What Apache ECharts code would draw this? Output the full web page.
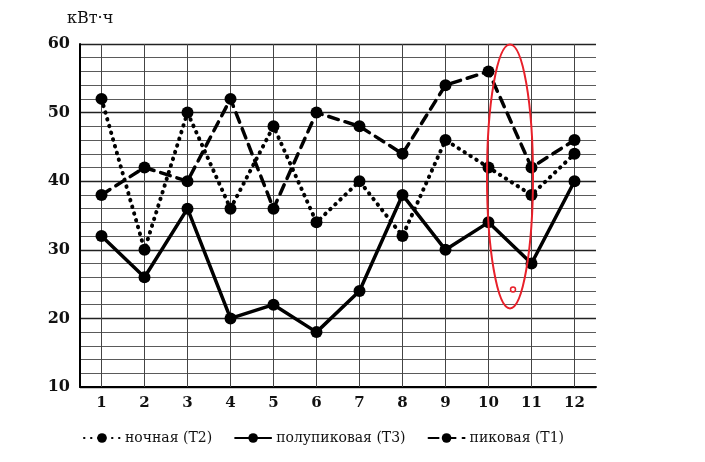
<!DOCTYPE html>
<html><head><meta charset="utf-8">
<script src="https://cdn.jsdelivr.net/npm/echarts@6/dist/echarts.min.js"></script>
<style>html,body{margin:0;padding:0;background:#fff}#c{width:705px;height:462px}</style>
</head><body><div id="c"></div>
<script>
const months = ['1','2','3','4','5','6','7','8','9','10','11','12'];
const night = [52,30,50,36,48,34,40,32,46,42,38,44];      // ночная (Т2)
const halfPeak = [32,26,36,20,22,18,24,38,30,34,28,40];   // полупиковая (Т3)
const peak = [38,42,40,52,36,50,48,44,54,56,42,46];       // пиковая (Т1)
const yTicks = [10,20,30,40,50,60];
const unitLabel = 'кВт·ч';
const names = ['ночная (Т2)','полупиковая (Т3)','пиковая (Т1)'];

const FONT = 'DejaVu Serif';
const chart = echarts.init(document.getElementById('c'));
const mk = (name, data, type, width) => ({
  name, type:'line', data, symbol:'circle', symbolSize:12,
  itemStyle:{color:'#000'},
  lineStyle:{color:'#000', width, type, cap:'round'},
  emphasis:{disabled:true}, animation:false, z:5
});
chart.setOption({
  animation:false,
  title:{text:unitLabel,left:62,top:6,textStyle:{fontFamily:FONT,fontSize:16,fontWeight:'normal',color:'#111'}},
  grid:{left:80,top:44,width:516,bottom:75},
  xAxis:{type:'category',data:months,boundaryGap:true,
    axisLine:{lineStyle:{color:'#000',width:2}},
    axisTick:{show:false},
    axisLabel:{fontFamily:FONT,fontWeight:'bold',fontSize:15,color:'#111',margin:9,interval:0},
    splitLine:{show:false}
  },
  yAxis:{type:'value',min:10,max:60,interval:10,
    axisLine:{show:true,lineStyle:{color:'#000',width:2}},
    axisTick:{show:false},
    axisLabel:{fontFamily:FONT,fontWeight:'bold',fontSize:16,color:'#111',margin:10,
      formatter:v=>yTicks.includes(v)?String(v):''},
    splitLine:{show:true,lineStyle:{color:'#222',width:1.4}},
    minorTick:{show:false,splitNumber:5},
    minorSplitLine:{show:true,lineStyle:{color:'#5a5a5a',width:1}}
  },
  legend:{left:78,top:426,itemWidth:36,itemHeight:12,itemGap:22,
    textStyle:{fontFamily:FONT,fontSize:14,color:'#111'},
    data:names},
  series:[
    Object.assign(mk(names[0], night, [0.5,6.5], 4), {
      markLine:{silent:true,symbol:'none',animation:false,label:{show:false},
        lineStyle:{color:'#444',width:1,type:'solid'},
        emphasis:{disabled:true},
        data:months.map(m=>({xAxis:m}))}
    }),
    mk(names[1], halfPeak, 'solid', 3.5),
    mk(names[2], peak, [10,7], 3.5)
  ]
});
// red annotation ellipse (between months 10 and 11)
const p10 = chart.convertToPixel({xAxisIndex:0,yAxisIndex:0},['10',40.7]);
const p11 = chart.convertToPixel({xAxisIndex:0,yAxisIndex:0},['11',24.2]);
const cx = (p10[0]+p11[0])/2;
const dx = p10[0] + (p11[0]-p10[0])*0.57;
chart.setOption({graphic:[
  {type:'ellipse',shape:{cx:cx,cy:p10[1],rx:23,ry:132},style:{fill:'none',stroke:'#e8202a',lineWidth:2},z:10},
  {type:'circle',shape:{cx:dx,cy:p11[1],r:2.5},style:{fill:'none',stroke:'#e8202a',lineWidth:1.5},z:10}
]});
</script></body></html>
